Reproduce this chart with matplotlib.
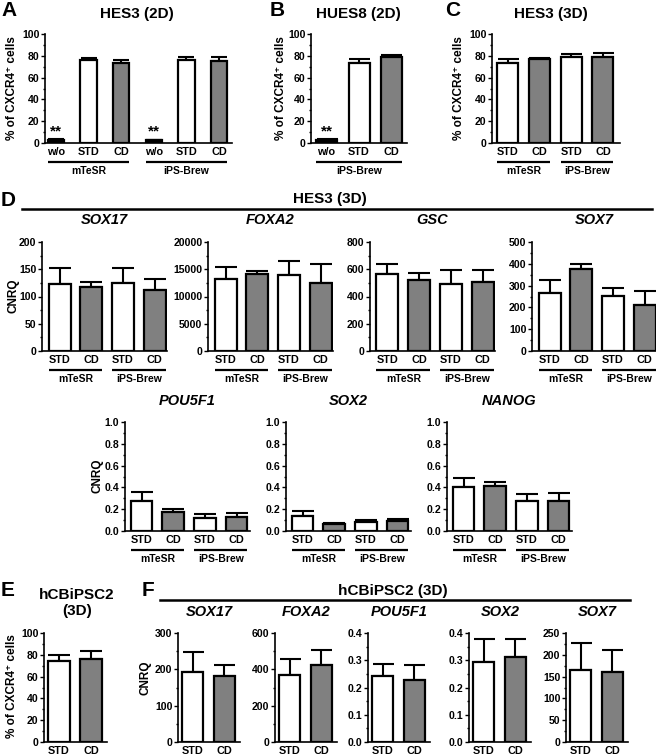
import matplotlib
matplotlib.use('Agg')
import matplotlib.pyplot as plt
from matplotlib.lines import Line2D
from matplotlib.ticker import MultipleLocator, FormatStrFormatter
import matplotlib.transforms as mtransforms

plt.rcParams['font.family'] = ['Liberation Sans', 'DejaVu Sans']
plt.rcParams['font.weight'] = 'bold'

# ---------------- data ----------------
media_groups = ['mTeSR', 'iPS-Brew']

a_labels = ['w/o', 'STD', 'CD', 'w/o', 'STD', 'CD']
a_vals = [3.0, 76.5, 73.5, 2.5, 76.0, 75.5]
a_errs = [0.6, 1.5, 3.0, 0.5, 3.0, 3.0]

b_labels = ['w/o', 'STD', 'CD']
b_vals = [3.0, 73.0, 78.5]
b_errs = [0.6, 4.0, 2.0]

c_labels = ['STD', 'CD', 'STD', 'CD']
c_vals = [73.0, 77.0, 78.5, 79.0]
c_errs = [4.0, 1.0, 3.0, 3.5]

d_labels = ['STD', 'CD', 'STD', 'CD']
d_sox17 = [123, 117, 125, 112]
d_sox17_err = [29, 10, 28, 20]
d_foxa2 = [13150, 14070, 13950, 12550]
d_foxa2_err = [2250, 600, 2550, 3350]
d_gsc = [563, 522, 495, 510]
d_gsc_err = [77, 54, 96, 88]
d_sox7 = [268, 375, 251, 213]
d_sox7_err = [56, 23, 40, 61]
d_pou5f1 = [0.274, 0.174, 0.119, 0.125]
d_pou5f1_err = [0.086, 0.027, 0.033, 0.043]
d_sox2 = [0.137, 0.067, 0.082, 0.094]
d_sox2_err = [0.046, 0.009, 0.018, 0.019]
d_nanog = [0.402, 0.409, 0.277, 0.274]
d_nanog_err = [0.080, 0.036, 0.058, 0.076]

e_labels = ['STD', 'CD']
e_vals = [74.6, 76.5]
e_errs = [5.5, 6.7]

f_labels = ['STD', 'CD']
f_sox17 = [192, 183]
f_sox17_err = [55, 28]
f_foxa2 = [371, 424]
f_foxa2_err = [86, 81]
f_pou5f1 = [0.241, 0.229]
f_pou5f1_err = [0.046, 0.055]
f_sox2 = [0.292, 0.312]
f_sox2_err = [0.086, 0.067]
f_sox7 = [164, 161]
f_sox7_err = [63, 51]

WHITE, GRAY, BLACK = 'white', '#808080', 'black'

W, H = 656, 756
fig = plt.figure(figsize=(W / 100, H / 100), dpi=100)


def ftext(x, y, s, **kw):
    kw.setdefault('ha', 'center')
    kw.setdefault('va', 'center')
    fig.text(x / W, 1 - y / H, s, **kw)


def hline(x0, x1, y, lw=1.8):
    fig.add_artist(Line2D([x0 / W, x1 / W], [1 - y / H, 1 - y / H],
                          transform=fig.transFigure, color='black', lw=lw))


def bar_panel(L, R, top, bottom, c0, s, bw, vals, errs, colors, labels,
              ymax, ystep, fmt, groups=None, stars=None):
    ax = fig.add_axes([L / W, 1 - bottom / H, (R - L) / W, (bottom - top) / H])
    n = len(vals)
    x = list(range(n))
    w = bw / s
    ax.bar(x, vals, width=w, color=colors, edgecolor='black', linewidth=1.6, zorder=3)
    ax.errorbar(x, vals, yerr=[[0] * n, errs], fmt='none', ecolor='black',
                elinewidth=1.5, capsize=bw * 0.36, capthick=1.5, zorder=2)
    ax.set_xlim((L - c0) / s, (R - c0) / s)
    ax.set_ylim(0, ymax)
    ax.yaxis.set_major_locator(MultipleLocator(ystep))
    ax.yaxis.set_minor_locator(MultipleLocator(ystep / 2))
    ax.yaxis.set_major_formatter(FormatStrFormatter(fmt))
    ax.set_xticks(x)
    ax.set_xticklabels(labels)
    ax.tick_params(axis='x', length=0, pad=3.2, labelsize=7.8)
    ax.tick_params(axis='y', which='major', length=3, width=1, pad=1, labelsize=7.6)
    ax.tick_params(axis='y', which='minor', length=1.8, width=1)
    for sp in ['top', 'right']:
        ax.spines[sp].set_visible(False)
    for sp in ['left', 'bottom']:
        ax.spines[sp].set_linewidth(1.2)
    hpx = bottom - top
    trans = mtransforms.blended_transform_factory(ax.transData, ax.transAxes)
    if groups:
        for (i0, i1, name) in groups:
            ax.plot([i0 - w / 2, i1 + w / 2], [-19 / hpx] * 2, transform=trans,
                    color='black', lw=1.6, clip_on=False, solid_capstyle='butt')
            ax.text((i0 + i1) / 2, -28.5 / hpx, name, transform=trans, ha='center',
                    va='center', fontsize=7.5, fontweight='bold')
    if stars:
        for i in stars:
            ax.text(i, vals[i] + errs[i] + 1, '**', ha='center', va='bottom',
                    fontsize=11, fontweight='bold')
    return ax


# ---------------- Panel A ----------------
bar_panel(45, 232, 34, 143, 56, 32.6, 16.5, a_vals, a_errs,
          [BLACK, WHITE, GRAY, BLACK, WHITE, GRAY], a_labels, 100, 20, '%d',
          groups=[(0, 2, media_groups[0]), (3, 5, media_groups[1])], stars=[0, 3])
ftext(1, 11, 'A', ha='left', fontsize=15)
ftext(137, 14, 'HES3 (2D)', fontsize=11)
ftext(12, 88, '% of CXCR4\u207a cells', rotation=90, fontsize=8.5)

# ---------------- Panel B ----------------
bar_panel(311, 407, 34, 143, 326.5, 32.5, 21, b_vals, b_errs,
          [BLACK, WHITE, GRAY], b_labels, 100, 20, '%d',
          groups=[(0, 2, media_groups[1])], stars=[0])
ftext(270, 11, 'B', ha='left', fontsize=15)
ftext(358, 14, 'HUES8 (2D)', fontsize=11)
ftext(281, 88, '% of CXCR4\u207a cells', rotation=90, fontsize=8.5)

# ---------------- Panel C ----------------
bar_panel(492, 620, 34, 143, 507.5, 31.8, 21, c_vals, c_errs,
          [WHITE, GRAY, WHITE, GRAY], c_labels, 100, 20, '%d',
          groups=[(0, 1, media_groups[0]), (2, 3, media_groups[1])])
ftext(445, 11, 'C', ha='left', fontsize=15)
ftext(551, 14, 'HES3 (3D)', fontsize=11)
ftext(459, 88, '% of CXCR4\u207a cells', rotation=90, fontsize=8.5)

# ---------------- Panel D ----------------
ftext(1, 200, 'D', ha='left', fontsize=15)
ftext(330, 199, 'HES3 (3D)', fontsize=11)
hline(22, 652, 209)

d_cols = [WHITE, GRAY, WHITE, GRAY]
d_grp = [(0, 1, media_groups[0]), (2, 3, media_groups[1])]
row1 = [('SOX17', d_sox17, d_sox17_err, 200, 50, '%d'),
        ('FOXA2', d_foxa2, d_foxa2_err, 20000, 5000, '%d'),
        ('GSC', d_gsc, d_gsc_err, 800, 200, '%d'),
        ('SOX7', d_sox7, d_sox7_err, 500, 100, '%d')]
for L, (name, v, e, ymax, ystep, fmt) in zip([42, 208, 370, 532], row1):
    bar_panel(L, L + 125, 242, 351, L + 17.5, 31.7, 22, v, e, d_cols, d_labels,
              ymax, ystep, fmt, groups=d_grp)
    ftext(L + 62, 220, name, fontsize=10.5, style='italic')
ftext(13, 296, 'CNRQ', rotation=90, fontsize=8.5)

row2 = [('POU5F1', d_pou5f1, d_pou5f1_err),
        ('SOX2', d_sox2, d_sox2_err),
        ('NANOG', d_nanog, d_nanog_err)]
for L, (name, v, e) in zip([125, 286, 447], row2):
    bar_panel(L, L + 125, 422, 531, L + 16.5, 31.7, 21.5, v, e, d_cols, d_labels,
              1.0, 0.2, '%.1f', groups=d_grp)
    ftext(L + 62, 401, name, fontsize=10.5, style='italic')
ftext(97, 476, 'CNRQ', rotation=90, fontsize=8.5)

# ---------------- Panel E ----------------
bar_panel(44, 107, 633, 742, 59, 32, 22, e_vals, e_errs, [WHITE, GRAY], e_labels,
          100, 20, '%d')
ftext(1, 591, 'E', ha='left', fontsize=15)
ftext(77, 595, 'hCBiPSC2', fontsize=11)
ftext(77, 611, '(3D)', fontsize=11)
ftext(12, 686, '% of CXCR4\u207a cells', rotation=90, fontsize=8.5)

# ---------------- Panel F ----------------
ftext(142, 591, 'F', ha='left', fontsize=15)
ftext(393, 591, 'hCBiPSC2 (3D)', fontsize=11)
hline(160, 630, 600)
frow = [('SOX17', f_sox17, f_sox17_err, 300, 100, '%d'),
        ('FOXA2', f_foxa2, f_foxa2_err, 600, 200, '%d'),
        ('POU5F1', f_pou5f1, f_pou5f1_err, 0.4, 0.1, '%.1f'),
        ('SOX2', f_sox2, f_sox2_err, 0.4, 0.1, '%.1f'),
        ('SOX7', f_sox7, f_sox7_err, 250, 50, '%d')]
for L, (name, v, e, ymax, ystep, fmt) in zip([178, 275, 368, 469, 566], frow):
    bar_panel(L, L + 62, 633, 742, L + 14.5, 31.5, 21, v, e, [WHITE, GRAY], f_labels,
              ymax, ystep, fmt)
    ftext(L + 31, 612, name, fontsize=10.5, style='italic')
ftext(146, 678, 'CNRQ', rotation=90, fontsize=8.5)

fig.savefig('out.png', dpi=100)
